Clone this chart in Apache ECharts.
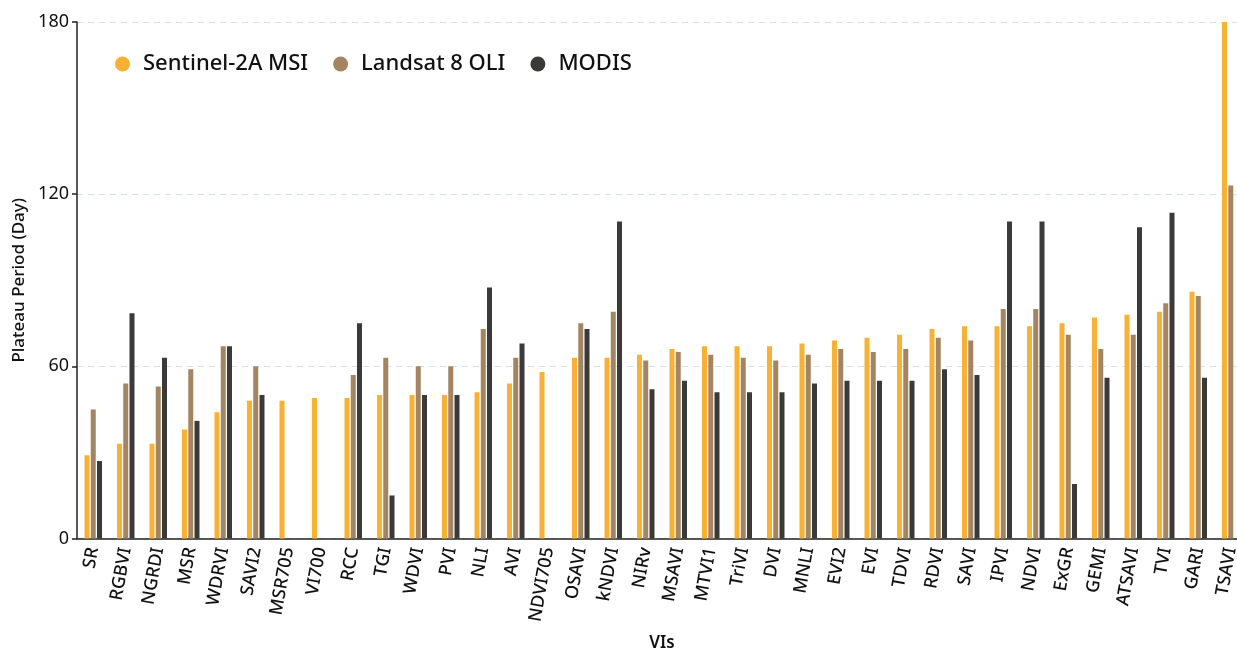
<!DOCTYPE html>
<html>
<head>
<meta charset="utf-8">
<title>Plateau Period by Vegetation Index</title>
<script src="https://cdn.jsdelivr.net/npm/echarts@6/dist/echarts.min.js"></script>
<style>
  html, body { margin: 0; padding: 0; background: #ffffff; overflow: hidden; }
  #chart { width: 1237px; height: 650px; }
</style>
</head>
<body>
<div id="chart"></div>
<script>
// Vegetation indices on the x axis
var categories = ['SR', 'RGBVI', 'NGRDI', 'MSR', 'WDRVI', 'SAVI2', 'MSR705', 'VI700', 'RCC', 'TGI',
  'WDVI', 'PVI', 'NLI', 'AVI', 'NDVI705', 'OSAVI', 'kNDVI', 'NIRv', 'MSAVI', 'MTVI1',
  'TriVI', 'DVI', 'MNLI', 'EVI2', 'EVI', 'TDVI', 'RDVI', 'SAVI', 'IPVI', 'NDVI',
  'ExGR', 'GEMI', 'ATSAVI', 'TVI', 'GARI', 'TSAVI'];

// Plateau period (days) per sensor; null where the index is not available
var sentinel2 = [29, 33, 33, 38, 44, 48, 48, 49, 49, 50,
  50, 50, 51, 54, 58, 63, 63, 64, 66, 67,
  67, 67, 68, 69, 70, 71, 73, 74, 74, 74,
  75, 77, 78, 79, 86, 180];
var landsat8 = [45, 54, 53, 59, 67, 60, null, null, 57, 63,
  60, 60, 73, 63, null, 75, 79, 62, 65, 64,
  63, 62, 64, 66, 65, 66, 70, 69, 80, 80,
  71, 66, 71, 82, 84.5, 123];
var modis = [27, 78.5, 63, 41, 67, 50, null, null, 75, 15,
  50, 50, 87.5, 68, null, 73, 110.5, 52, 55, 51,
  51, 51, 54, 55, 55, 55, 59, 57, 110.5, 110.5,
  19, 56, 108.5, 113.5, 56, null];

var seriesNames = ['Sentinel-2A MSI', 'Landsat 8 OLI', 'MODIS'];
var yTicks = [0, 60, 120, 180];

var colors = ['#f8b133', '#a38562', '#3c3939'];
var FONT = '"Noto Sans", "DejaVu Sans", sans-serif';

var chart = echarts.init(document.getElementById('chart'), null, { renderer: 'canvas' });

function barSeries(name, data, color) {
  return {
    name: name,
    type: 'bar',
    data: data,
    barWidth: 5,
    barGap: '25%',
    itemStyle: { color: color },
    emphasis: { disabled: true }
  };
}

chart.setOption({
  animation: false,
  backgroundColor: '#ffffff',
  color: colors,
  grid: {
    left: 77, right: -10, top: 22, bottom: 111.5,
    containLabel: false,
    outerBoundsMode: 'none'
  },
  legend: {
    data: seriesNames,
    left: 110,
    top: 48,
    icon: 'circle',
    itemWidth: 15,
    itemHeight: 15,
    itemGap: 25,
    textStyle: {
      fontFamily: FONT,
      fontSize: 22,
      fontWeight: 500,
      color: '#111111',
      padding: [0, 0, 0, 8]
    }
  },
  xAxis: {
    type: 'category',
    data: categories,
    name: 'VIs',
    nameLocation: 'middle',
    nameGap: 96,
    nameTextStyle: { fontFamily: FONT, fontSize: 17, fontWeight: 600, color: '#111111' },
    axisLine: { lineStyle: { color: '#222222', width: 1.5 } },
    axisTick: { alignWithLabel: true, length: 5, lineStyle: { color: '#222222', width: 1.5 } },
    axisLabel: {
      interval: 0,
      rotate: 80,
      margin: 9,
      fontFamily: FONT,
      fontSize: 18,
      fontWeight: 500,
      color: '#111111'
    },
    splitLine: { show: false }
  },
  yAxis: {
    type: 'value',
    min: yTicks[0],
    max: yTicks[yTicks.length - 1],
    interval: yTicks[1] - yTicks[0],
    name: 'Plateau Period (Day)',
    nameLocation: 'middle',
    nameGap: 48,
    nameTextStyle: { fontFamily: FONT, fontSize: 17, fontWeight: 500, color: '#111111' },
    axisLine: { show: true, lineStyle: { color: '#222222', width: 1.5 } },
    axisTick: { show: true, length: 5, lineStyle: { color: '#222222', width: 1.5 } },
    axisLabel: { fontFamily: FONT, fontSize: 18, color: '#111111', margin: 8 },
    splitLine: { show: true, lineStyle: { color: '#d6e1e8', type: [6, 5], width: 1 } }
  },
  series: [
    barSeries(seriesNames[0], sentinel2, colors[0]),
    barSeries(seriesNames[1], landsat8, colors[1]),
    barSeries(seriesNames[2], modis, colors[2])
  ]
});
</script>
</body>
</html>
